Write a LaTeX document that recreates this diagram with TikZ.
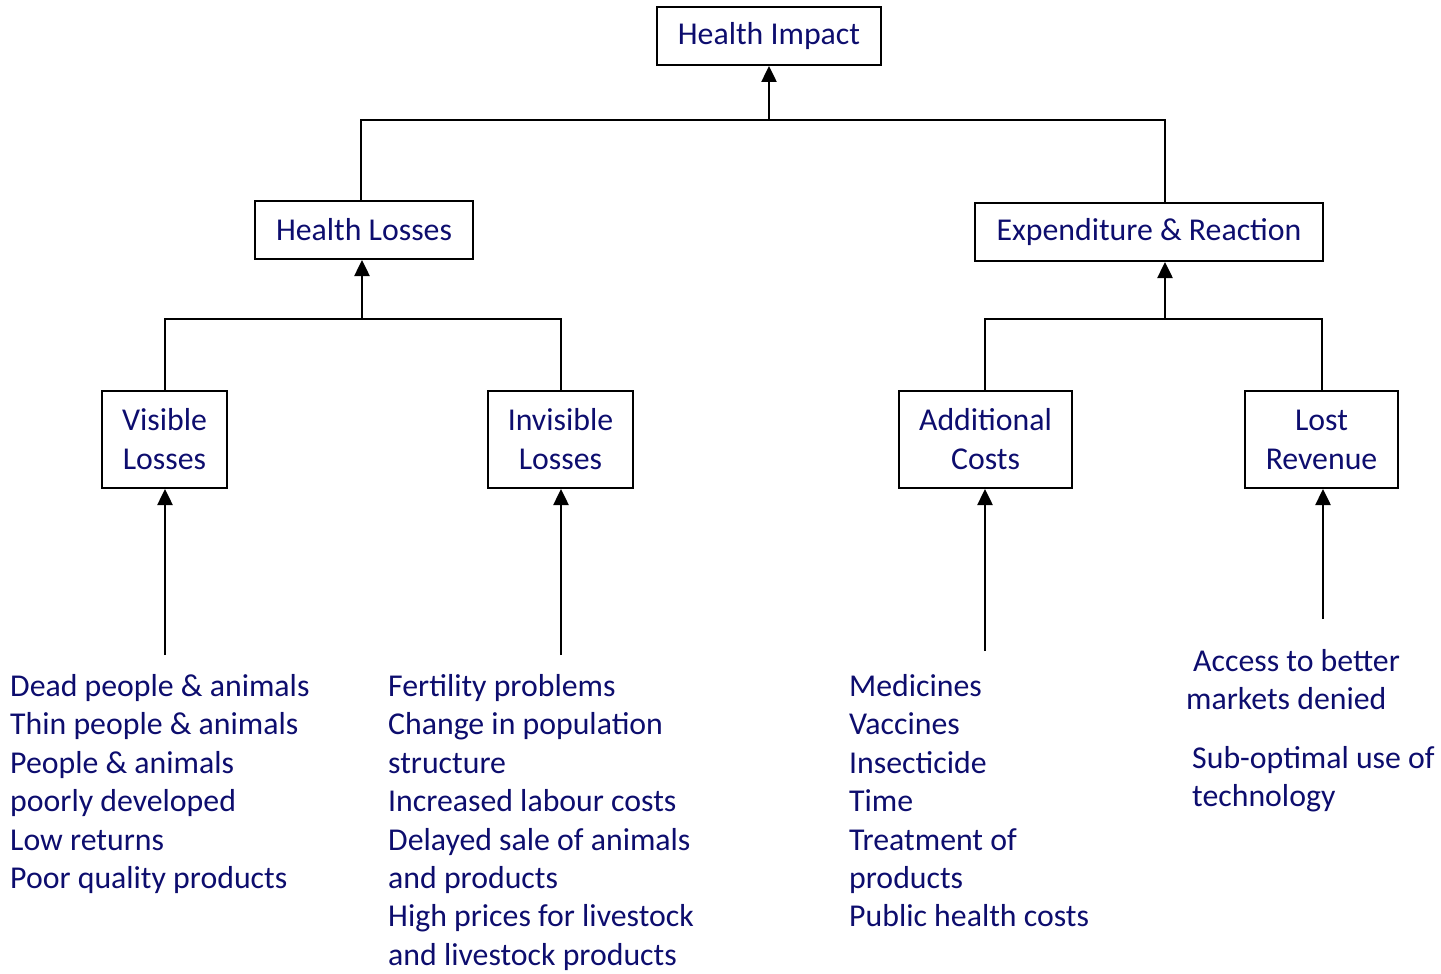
\documentclass[tikz,border=0pt]{standalone}
\usepackage{fontspec}
\setmainfont{Carlito}
\usetikzlibrary{arrows.meta}
\definecolor{txt}{RGB}{13,13,110}
\tikzset{
  box/.style={draw=black, line width=2pt, text=txt, align=center, inner sep=0pt,
    font=\fontsize{31.8}{39}\selectfont},
  conn/.style={line width=2.5pt, draw=black},
  arr/.style={conn, -{Triangle[width=15pt,length=16pt]}},
  item/.style={anchor=base west, text=txt, inner sep=0pt, font=\fontsize{31.8}{39}\selectfont},
}
\begin{document}
\begin{tikzpicture}[x=1pt,y=-1pt]
\useasboundingbox (0,0) rectangle (1441,974);
% boxes
\node[box, minimum width=224pt, minimum height=58pt] (hi) at (769,36) {Health Impact};
\node[box, minimum width=218pt, minimum height=58pt] (hl) at (364,230) {Health Losses};
\node[box, minimum width=348pt, minimum height=58pt] (er) at (1149,232) {Expenditure \& Reaction};
\node[box, minimum width=125pt, minimum height=97pt] (vl) at (164.5,439.5) {Visible\\Losses};
\node[box, minimum width=145pt, minimum height=97pt] (il) at (560.5,439.5) {Invisible\\Losses};
\node[box, minimum width=173pt, minimum height=97pt] (ac) at (985.5,439.5) {Additional\\Costs};
\node[box, minimum width=153pt, minimum height=97pt] (lr) at (1321.5,439.5) {Lost\\Revenue};
% junction coordinates
\coordinate (j1) at (769,120);
\coordinate (j1l) at (361,120);
\coordinate (j1r) at (1165,120);
\coordinate (j2) at (362,319);
\coordinate (j2l) at (165,319);
\coordinate (j2r) at (561,319);
\coordinate (j3) at (1165,319);
\coordinate (j3l) at (985,319);
\coordinate (j3r) at (1322,319);
% top level
\draw[arr] (j1) -- (hi.south);
\draw[conn] (hl.north -| j1l) -- (j1l) -- (j1r) -- (er.north -| j1r);
% health losses
\draw[arr] (j2) -- (hl.south -| j2);
\draw[conn] (vl.north -| j2l) -- (j2l) -- (j2r) -- (il.north -| j2r);
% expenditure
\draw[arr] (j3) -- (er.south -| j3);
\draw[conn] (ac.north -| j3l) -- (j3l) -- (j3r) -- (lr.north -| j3r);
% bottom arrows
\coordinate (b1) at (165,655);
\coordinate (b2) at (561,655);
\coordinate (b3) at (985,651);
\coordinate (b4) at (1323,619);
\draw[arr] (b1) -- (vl.south -| b1);
\draw[arr] (b2) -- (il.south -| b2);
\draw[arr] (b3) -- (ac.south -| b3);
\draw[arr] (b4) -- (lr.south -| b4);
% lists
\foreach \t [count=\i] in {Dead people \& animals, Thin people \& animals, People \& animals, poorly developed, Low returns, Poor quality products}
  \node[item] (c1-\i) at (10, 696.5+38.4*\i-38.4) {\t};
\foreach \t [count=\i] in {Fertility problems, Change in population, structure, Increased labour costs, Delayed sale of animals, and products, High prices for livestock, and livestock products}
  \node[item] (c2-\i) at (388, 696.5+38.4*\i-38.4) {\t};
\foreach \t [count=\i] in {Medicines, Vaccines, Insecticide, Time, Treatment of, products, Public health costs}
  \node[item] (c3-\i) at (849, 696.5+38.4*\i-38.4) {\t};
\node[item] (c4-1) at (1193,671.5) {Access to better};
\node[item] (c4-2) at (1186,709.5) {markets denied};
\node[item] (c4-3) at (1192,768.5) {Sub-optimal use of};
\node[item] (c4-4) at (1192,806.5) {technology};
\end{tikzpicture}
\end{document}
